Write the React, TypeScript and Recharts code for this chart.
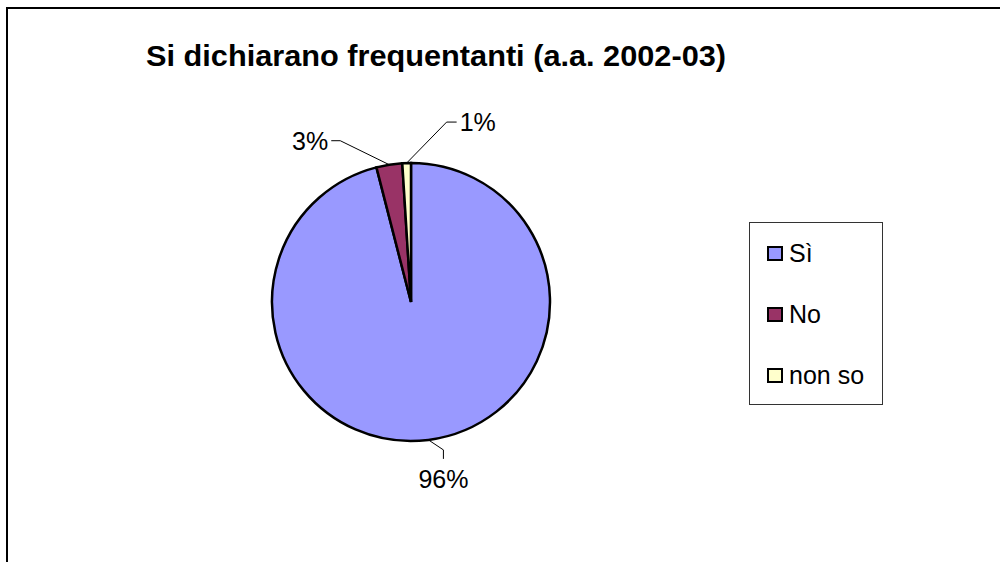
import React from 'react';
import { PieChart, Pie, Cell, Legend } from 'recharts';

const categories = ['Sì', 'No', 'non so'];
const shares = [96, 3, 1];
const sliceColors = ['#9999FF', '#993366', '#FFFFCC'];
const chartTitle = 'Si dichiarano frequentanti (a.a. 2002-03)';

const data = categories.map((name, i) => ({ name, value: shares[i] }));

// leader-line geometry per slice, relative to the slice's outer mid point
const labelGeom = [
  { ex: 15, ey: 10, fx: 15, fy: 19, tx: 15, ty: 48, anchor: 'middle' },
  { ex: -49, ey: -24, fx: -58, fy: -24, tx: -61, ty: -15, anchor: 'end' },
  { ex: 40, ey: -41, fx: 50, fy: -41, tx: 53, ty: -32, anchor: 'start' },
];

const FONT = '"Liberation Sans", Arial, sans-serif';
const RADIAN = Math.PI / 180;

const renderLabel = (props: any) => {
  const { cx, cy, midAngle, outerRadius, percent, index } = props;
  const ax = cx + outerRadius * Math.cos(-midAngle * RADIAN);
  const ay = cy + outerRadius * Math.sin(-midAngle * RADIAN);
  const g = labelGeom[index];
  return (
    <g key={`lbl-${index}`}>
      <polyline
        points={`${ax},${ay} ${ax + g.ex},${ay + g.ey} ${ax + g.fx},${ay + g.fy}`}
        fill="none"
        stroke="#000"
        strokeWidth={1}
      />
      <text
        x={ax + g.tx}
        y={ay + g.ty}
        textAnchor={g.anchor as any}
        fontFamily={FONT}
        fontSize={25}
        fill="#000"
      >
        {`${Math.round(percent * 100)}%`}
      </text>
    </g>
  );
};

const renderLegend = (props: any) => {
  const payload = [...(props.payload || [])].sort(
    (a: any, b: any) => categories.indexOf(a.value) - categories.indexOf(b.value)
  );
  return (
    <div
      style={{
        width: 134,
        height: 183,
        boxSizing: 'border-box',
        border: '1px solid #333',
        background: '#fff',
        position: 'relative',
        fontFamily: FONT,
        fontSize: 25,
        color: '#000',
      }}
    >
      {payload.map((entry: any, i: number) => (
        <div
          key={`leg-${i}`}
          style={{
            position: 'absolute',
            left: 17,
            top: 15 + i * 61,
            height: 30,
            display: 'flex',
            alignItems: 'center',
            whiteSpace: 'nowrap',
          }}
        >
          <span
            style={{
              display: 'inline-block',
              width: 16,
              height: 15,
              boxSizing: 'border-box',
              border: '2px solid #000',
              background: entry.color,
              marginRight: 6,
            }}
          />
          <span>{entry.value}</span>
        </div>
      ))}
    </div>
  );
};

export default function App() {
  return (
    <div
      style={{
        position: 'absolute',
        left: 0,
        top: 0,
        width: 1000,
        height: 562,
        overflow: 'hidden',
        background: '#fff',
      }}
    >
      <div
        style={{
          position: 'absolute',
          left: 6,
          top: 7,
          width: 1100,
          height: 700,
          border: '2px solid #000',
        }}
      />
      <div style={{ position: 'absolute', left: 0, top: 0 }}>
        <PieChart width={1000} height={562} margin={{ top: 0, right: 0, bottom: 0, left: 0 }}>
          <Pie
            data={data}
            dataKey="value"
            nameKey="name"
            cx={411}
            cy={302}
            outerRadius={139}
            startAngle={90}
            endAngle={-270}
            stroke="#000"
            strokeWidth={2.5}
            label={renderLabel}
            labelLine={false}
            isAnimationActive={false}
          >
            {data.map((d, i) => (
              <Cell key={d.name} fill={sliceColors[i]} />
            ))}
          </Pie>
          <Legend
            layout="vertical"
            align="right"
            verticalAlign="middle"
            content={renderLegend}
            wrapperStyle={{ position: 'absolute', left: 749, top: 222, width: 134, height: 183 }}
          />
        </PieChart>
      </div>
      <svg
        width={1000}
        height={562}
        style={{ position: 'absolute', left: 0, top: 0, pointerEvents: 'none' }}
      >
        <text
          x={146}
          y={66}
          fontFamily={FONT}
          fontWeight="bold"
          fontSize={30}
          textLength={580}
          lengthAdjust="spacingAndGlyphs"
          fill="#000"
        >
          {chartTitle}
        </text>
      </svg>
    </div>
  );
}
